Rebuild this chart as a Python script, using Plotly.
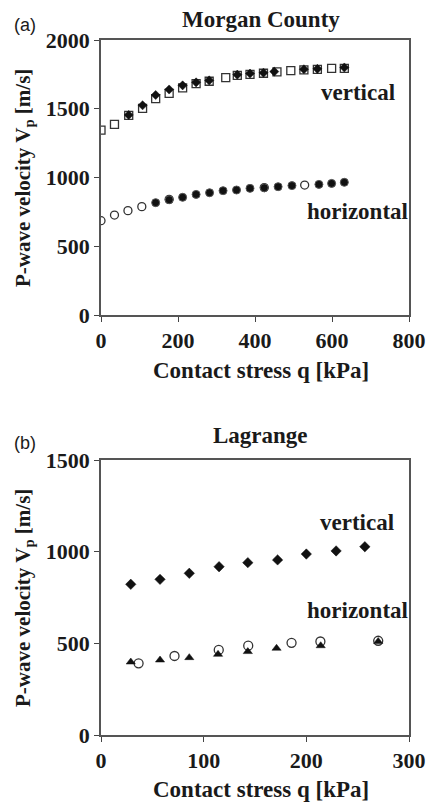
import plotly.graph_objects as go

# ---------------- data: Morgan County (panel a) ----------------
mc_v_a_q = [0, 35, 72, 108, 142, 177, 212, 247, 281, 324, 354, 387, 422, 457, 493, 527, 562, 599, 632]
mc_v_a_v = [1345, 1387, 1452, 1503, 1573, 1612, 1652, 1683, 1700, 1726, 1743, 1750, 1758, 1768, 1777, 1782, 1787, 1794, 1794]
mc_v_b_q = [72, 108, 142, 177, 212, 247, 281, 354, 387, 422, 450, 527, 562, 632]
mc_v_b_v = [1455, 1525, 1600, 1640, 1670, 1692, 1706, 1748, 1756, 1762, 1770, 1787, 1790, 1800]

mc_h_a_q = [0, 35, 70, 106, 177, 424, 529]
mc_h_a_v = [686, 727, 759, 788, 841, 927, 945]
mc_h_b_q = [142, 177, 212, 247, 282, 317, 352, 387, 424, 460, 496, 566, 599, 632]
mc_h_b_v = [817, 838, 856, 877, 889, 904, 909, 921, 925, 933, 941, 950, 957, 965]

# ---------------- data: Lagrange (panel b) ----------------
lg_v_q = [29, 57.5, 86, 115, 143, 172, 200, 229, 257]
lg_v_v = [822, 849, 882, 918, 940, 955, 987, 1004, 1027]

lg_h_tri_q = [29, 57.5, 86, 114, 143, 171, 214, 270]
lg_h_tri_v = [398, 409, 422, 440, 455, 473, 487, 510]
lg_h_cir_q = [36.6, 71.6, 114.7, 143.4, 185.6, 213.7, 270]
lg_h_cir_v = [391, 431, 464, 487, 503, 510, 514]

x_ticks_a = [0, 200, 400, 600, 800]
y_ticks_a = [0, 500, 1000, 1500, 2000]
x_ticks_b = [0, 100, 200, 300]
y_ticks_b = [0, 500, 1000, 1500]

SERIF = "Liberation Serif, Times New Roman, serif"
SANS = "Liberation Sans, Arial, sans-serif"
INK = "#1a1a1a"

fig = go.Figure()

def sc(x, y, xa, ya, symbol, size, fill, line_color="#111111", lw=1.3):
    fig.add_trace(go.Scatter(
        x=x, y=y, xaxis=xa, yaxis=ya, mode="markers", showlegend=False,
        marker=dict(symbol=symbol, size=size, color=fill,
                    line=dict(color=line_color, width=lw))))

# panel a
sc(mc_v_a_q, mc_v_a_v, "x", "y", "square-open", 8, "#333333")
sc(mc_v_b_q, mc_v_b_v, "x", "y", "diamond", 7, "#111111", lw=0.5)
sc(mc_h_a_q, mc_h_a_v, "x", "y", "circle-open", 8, "#333333")
sc(mc_h_b_q, mc_h_b_v, "x", "y", "circle", 8, "#111111", line_color="#555555", lw=1)
# panel b
sc(lg_v_q, lg_v_v, "x2", "y2", "diamond", 8, "#111111", lw=0.5)
sc(lg_h_cir_q, lg_h_cir_v, "x2", "y2", "circle-open", 9, "#333333")
sc(lg_h_tri_q, lg_h_tri_v, "x2", "y2", "triangle-up", 8, "#111111", lw=0.5)

W, H = 438, 803
L, R, T, B = 101, 17, 40, 68
ph = H - T - B

def py(p):
    return (H - B - p) / ph

def px(p):
    return (p - L) / (W - L - R)

axis_common = dict(
    showgrid=False, zeroline=False, showline=True, linecolor="#555555", linewidth=1.5,
    mirror=True, ticks="outside", ticklen=5, tickwidth=1.3, tickcolor="#444444",
    tickfont=dict(family=SERIF, size=22, color=INK),
)

fig.update_layout(
    width=W, height=H, margin=dict(l=L, r=R, t=T, b=B),
    paper_bgcolor="white", plot_bgcolor="white",
    xaxis=dict(axis_common, range=[0, 800], tickvals=x_ticks_a,
               ticktext=[f"<b>{v}</b>" for v in x_ticks_a], domain=[0, 1], anchor="y"),
    yaxis=dict(axis_common, range=[0, 2000], tickvals=y_ticks_a,
               ticktext=[f"<b>{v}</b>" for v in y_ticks_a],
               domain=[py(315), py(40)], anchor="x"),
    xaxis2=dict(axis_common, range=[0, 300], tickvals=x_ticks_b,
                ticktext=[f"<b>{v}</b>" for v in x_ticks_b], domain=[0, 1], anchor="y2"),
    yaxis2=dict(axis_common, range=[0, 1500], tickvals=y_ticks_b,
                ticktext=[f"<b>{v}</b>" for v in y_ticks_b],
                domain=[py(735), py(460)], anchor="x2"),
)

def ann(text, xpix, ypix, size, family=SERIF, angle=0):
    fig.add_annotation(text=text, x=px(xpix), y=py(ypix), xref="paper", yref="paper",
                       showarrow=False, xanchor="center", yanchor="middle", textangle=angle,
                       font=dict(family=family, size=size, color=INK))

YT = "<b>P-wave velocity V<sub>p</sub> [m/s]</b>"
XT = "<b>Contact stress q [kPa]</b>"

ann("<b>Morgan County</b>", 267, 19, 23)
ann("<b>Lagrange</b>", 267, 436, 23)
ann("(a)", 22, 25, 18, family=SANS)
ann("(b)", 22, 443, 18, family=SANS)
ann("<b>vertical</b>", 368, 92, 23)
ann("<b>horizontal</b>", 368, 212, 23)
ann("<b>vertical</b>", 367, 522, 23)
ann("<b>horizontal</b>", 368, 610, 23)
ann(XT, 267, 370, 23)
ann(XT, 267, 789, 23)
ann(YT, 21, 178, 21, angle=-90)
ann(YT, 21, 598, 21, angle=-90)

fig.write_html("out.html")
